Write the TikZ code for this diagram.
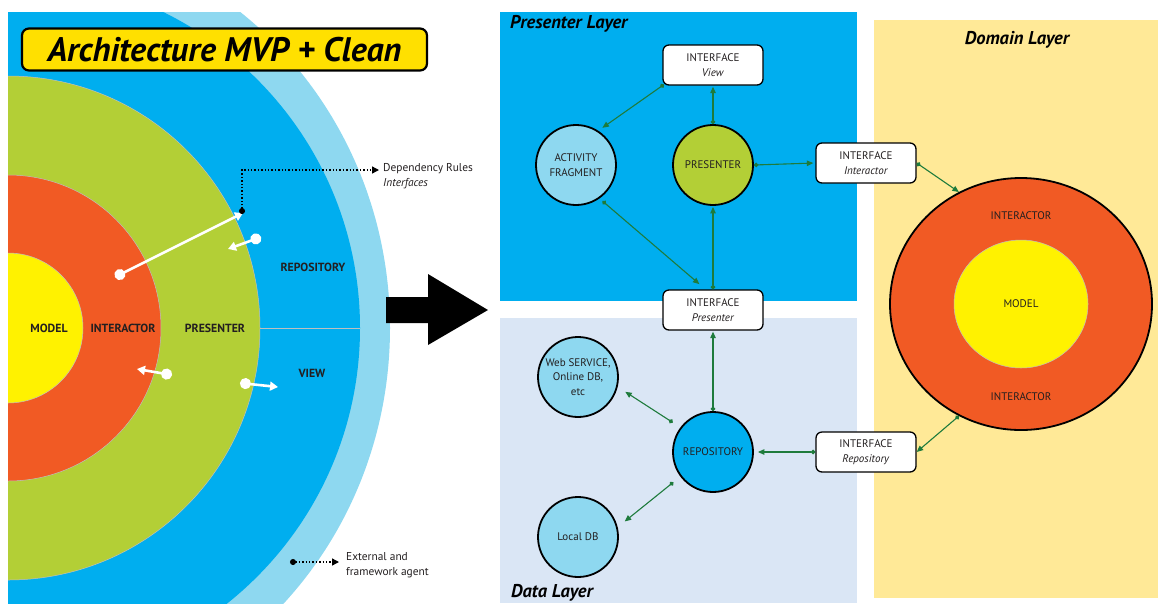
\documentclass[tikz,border=0pt]{standalone}
\usepackage{fontspec}
\setmainfont{PT Sans}
\usetikzlibrary{arrows.meta,shapes.geometric,calc}
\definecolor{cyellow}{HTML}{FFF200}
\definecolor{corange}{HTML}{F15A24}
\definecolor{cgreen}{HTML}{B3CF36}
\definecolor{cblue}{HTML}{00AEEF}
\definecolor{clight}{HTML}{8ED8F0}
\definecolor{ctitle}{HTML}{FFE000}
\definecolor{cdata}{HTML}{DAE6F5}
\definecolor{cdomain}{HTML}{FFE997}
\definecolor{cline}{HTML}{1E7B3C}
\definecolor{ctext}{HTML}{231F20}
\tikzset{
  ring/.style={draw=black!25, line width=0.5pt},
  lbl/.style={font=\fontsize{11.8}{13}\selectfont\bfseries, text=ctext, inner sep=0pt},
  note/.style={font=\fontsize{11.4}{14.5}\selectfont, text=ctext, inner sep=0pt, anchor=west, align=left},
  layer/.style={font=\fontsize{18.5}{20}\selectfont\bfseries\itshape, inner sep=0pt},
  iface/.style={draw, line width=1.3pt, fill=white, rounded corners=6pt, minimum width=100pt, minimum height=40pt, inner sep=0pt, align=center, font=\fontsize{11}{14.5}\selectfont, text=ctext},
  circ/.style={circle, draw, line width=1.8pt, minimum size=80pt, inner sep=0pt, align=center, font=\fontsize{11}{14.5}\selectfont, text=ctext},
  conn/.style={draw=cline, line width=1.1pt, {Circle[length=4.5pt]}-{Triangle[length=6.5pt,width=5.5pt]}},
  warrow/.style={draw=white, line width=2.6pt, {Circle[length=11pt]}-{Triangle[length=8pt,width=9pt]}},
  darrow/.style={draw=black, line width=1.4pt, dotted, {Circle[length=6pt]}-{Triangle[length=7pt,width=7pt]}},
}
\begin{document}
\begin{tikzpicture}[x=1pt,y=-1pt]
\useasboundingbox (0,0) rectangle (1158,603);
% ---------------- left onion ----------------
\begin{scope}
\clip (8,12) rectangle (430,603);
\fill[clight] (8,328) ellipse [x radius=382pt, y radius=398pt];
\fill[cblue] (8,328) circle [radius=352pt];
\draw[ring, fill=cgreen] (8,328) circle [radius=252pt];
\draw[ring, fill=corange] (8,328) circle [radius=153pt];
\draw[ring, fill=cyellow] (8,328) circle [radius=75pt];
\draw[black!25, line width=0.7pt] (260,328) -- (360,328);
\end{scope}
\node[lbl] (lmodel) at (49,328) {MODEL};
\node[lbl] (linter) at (123,328) {INTERACTOR};
\node[lbl] (lpres) at (215,328) {PRESENTER};
\node[lbl] (lrepo) at (313,267) {REPOSITORY};
\node[lbl] (lview) at (312,373) {VIEW};
% title
\node[draw, line width=2.2pt, rounded corners=7pt, fill=ctitle, minimum width=405pt, minimum height=42pt, inner sep=0pt] (title) at (224.5,49.5)
  {\fontsize{34}{34}\selectfont\bfseries\itshape Architecture MVP + Clean};
% white arrows
\coordinate (w1s) at (115,277); \coordinate (w1e) at (243,213);
\coordinate (w2s) at (261,237); \coordinate (w2e) at (228,249);
\coordinate (w3s) at (172,375); \coordinate (w3e) at (137,369);
\coordinate (w4s) at (240,383); \coordinate (w4e) at (278,387);
\draw[warrow] (w1s) -- (w1e);
\draw[warrow] (w2s) -- (w2e);
\draw[warrow] (w3s) -- (w3e);
\draw[warrow] (w4s) -- (w4e);
% dotted notes
\coordinate (d1s) at (242,214); \coordinate (d1e) at (379,170);
\node[note] (dep) at (383,176) {Dependency Rules\\\textit{Interfaces}};
\draw[darrow] (d1s) |- (d1e);
\node[note] (ext) at (346,565) {External and\\framework agent};
\coordinate (d2s) at (290,562); \coordinate (d2e) at (339,562);
\draw[darrow] (d2s) -- (d2e);
% big arrow
\fill[black] (386,297) -- (428,297) -- (428,274) -- (488,310) -- (428,345) -- (428,323) -- (386,323) -- cycle;
% ---------------- layers ----------------
\fill[cblue] (500,12) rectangle (857,301);
\fill[cdata] (500,318) rectangle (857,603);
\fill[cdomain] (874,20) rectangle (1158,598);
\node[layer, anchor=west] (tpl) at (510,24) {Presenter Layer};
\node[layer, anchor=west] (tdl) at (511,593) {Data Layer};
\node[layer] (tdom) at (1017,40) {Domain Layer};
% nodes
\node[iface] (iview) at (713,65) {INTERFACE\\\textit{View}};
\node[iface] (ipres) at (713,310) {INTERFACE\\\textit{Presenter}};
\node[iface] (iinter) at (866,163) {INTERFACE\\\textit{Interactor}};
\node[iface] (irepo) at (866,452) {INTERFACE\\\textit{Repository}};
\node[circ, fill=clight] (af) at (576,165) {ACTIVITY\\FRAGMENT};
\node[circ, fill=cgreen] (pres) at (713,165) {PRESENTER};
\node[circ, fill=cblue] (repo) at (713,452) {REPOSITORY};
\node[circ, fill=clight] (ws) at (578,377) {Web SERVICE,\\Online DB,\\etc};
\node[circ, fill=clight] (ldb) at (578,537) {Local DB};
\node[ellipse, draw, line width=1.8pt, fill=corange, minimum width=262pt, minimum height=252pt, inner sep=0pt] (dom) at (1021,304) {};
\node[ellipse, draw=black!25, line width=0.5pt, fill=cyellow, minimum width=134pt, minimum height=128pt, inner sep=0pt, font=\fontsize{11}{12}\selectfont, text=ctext] (model) at (1021,304) {MODEL};
\node[font=\fontsize{11}{12}\selectfont, text=ctext] (dint1) at (1021,216) {INTERACTOR};
\node[font=\fontsize{11}{12}\selectfont, text=ctext] (dint2) at (1021,397) {INTERACTOR};
% connectors
\draw[conn, shorten <=-2pt, shorten >=5pt] (iview.south west) -- (af.57);
\draw[conn, shorten >=1pt] (pres.north) -- (iview.south);
\draw[conn, shorten <=4pt, shorten >=8pt] (af.-55) -- (ipres.110);
\draw[conn, shorten >=1pt] (ipres.north) -- (pres.south);
\draw[conn, shorten >=2pt] (pres.east) -- (iinter.west);
\draw[conn] (iinter.east) -- (dom.119);
\draw[conn, shorten >=1pt] (repo.north) -- (ipres.south);
\draw[conn, shorten <=9pt, shorten >=9pt] (repo.143) -- (ws.-14);
\draw[conn, shorten <=9pt, shorten >=9pt] (repo.217) -- (ldb.14);
\draw[conn, shorten >=4pt] (irepo.west) -- (repo.east);
\draw[conn] (dom.-119) -- (irepo.east);
\end{tikzpicture}
\end{document}
